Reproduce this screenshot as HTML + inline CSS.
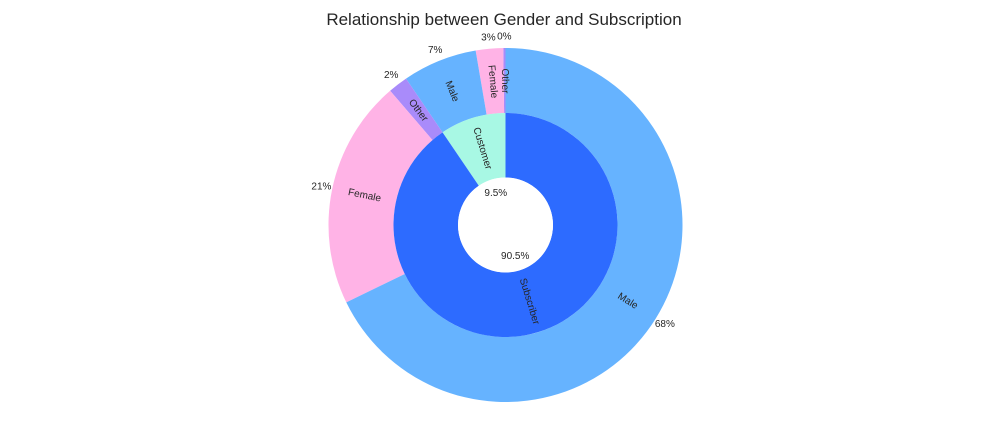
<!DOCTYPE html>
<html><head><meta charset="utf-8"><style>
body{margin:0;background:#fff;}
svg{display:block;font-family:"Liberation Sans","DejaVu Sans",sans-serif;}
</style></head><body>
<svg id="chart" width="1008" height="432">
<text x="504" y="25" text-anchor="middle" font-size="17" fill="#262626">Relationship between Gender and Subscription</text>
<g id="outer"></g><g id="inner"></g><g id="labels"></g>
<circle cx="505.5" cy="225" r="47.5" fill="#fff"/>
<g id="pcts"></g>
</svg>
<script>
const groups = ["Customer", "Subscriber"];
const groupValues = [9.5, 90.5];
const subLabels = ["Other", "Female", "Male", "Other", "Female", "Male"];
const subValues = [0.2, 2.5, 6.8, 1.8, 20.9, 67.8];
const subPctText = ["0%", "3%", "7%", "2%", "21%", "68%"];
const groupPctText = ["9.5%", "90.5%"];

const cx = 505.5, cy = 225, R = 177, Rm = 112, Rh = 47.5;
const groupColors = ["#a8f8e4", "#2d6bff"];
const subColors = {"Other": "#a98bfa", "Female": "#ffb3e6", "Male": "#66b3ff"};
const NS = "http://www.w3.org/2000/svg";
function pt(r, a){ const t = a*Math.PI/180; return [cx + r*Math.cos(t), cy - r*Math.sin(t)]; }
function wedge(r0, r1, a0, a1){
  const large = (a1-a0) > 180 ? 1 : 0;
  const p0 = pt(r1,a0), p1 = pt(r1,a1), p2 = pt(r0,a1), p3 = pt(r0,a0);
  return `M${p0[0]},${p0[1]} A${r1},${r1} 0 ${large} 0 ${p1[0]},${p1[1]} L${p2[0]},${p2[1]} A${r0},${r0} 0 ${large} 1 ${p3[0]},${p3[1]} Z`;
}
function txt(parent, x, y, s, rot){
  const t = document.createElementNS(NS, "text");
  t.setAttribute("x", x); t.setAttribute("y", y);
  t.setAttribute("text-anchor", "middle"); t.setAttribute("dominant-baseline", "central");
  t.setAttribute("font-size", "10"); t.setAttribute("fill", "#262626");
  if (rot !== undefined) t.setAttribute("transform", `rotate(${rot} ${x} ${y})`);
  t.textContent = s;
  parent.appendChild(t);
  return t;
}
function rotFor(a){ let r = a % 360; if (r > 90 && r < 270) r += 180; return -r; }
const outer = document.getElementById("outer"), inner = document.getElementById("inner");
const labels = document.getElementById("labels"), pcts = document.getElementById("pcts");
const subTotal = subValues.reduce((a,b)=>a+b,0);
let a = 90;
subValues.forEach((v,i)=>{
  const span = v/subTotal*360, a1 = a+span, mid = a+span/2;
  const p = document.createElementNS(NS, "path");
  p.setAttribute("d", wedge(Rm, R, a, a1));
  p.setAttribute("fill", subColors[subLabels[i]]);
  
  
  outer.appendChild(p);
  const lp = pt(144, mid);
  const l = txt(labels, lp[0], lp[1], subLabels[i], rotFor(mid));
  
  
  const pp = pt(188, mid);
  const q = txt(pcts, pp[0], pp[1], subPctText[i]);
  
  
  a = a1;
});
const gTotal = groupValues.reduce((a,b)=>a+b,0);
a = 90;
groupValues.forEach((v,i)=>{
  const span = v/gTotal*360, a1 = a+span, mid = a+span/2;
  const p = document.createElementNS(NS, "path");
  p.setAttribute("d", wedge(Rh, Rm, a, a1));
  p.setAttribute("fill", groupColors[i]);
  
  
  inner.appendChild(p);
  const lp = pt(80, mid);
  const l = txt(labels, lp[0], lp[1], groups[i], rotFor(mid));
  
  
  const pp = pt(33, mid);
  const q = txt(pcts, pp[0], pp[1], groupPctText[i]);
  
  
  a = a1;
});
</script>
</body></html>
